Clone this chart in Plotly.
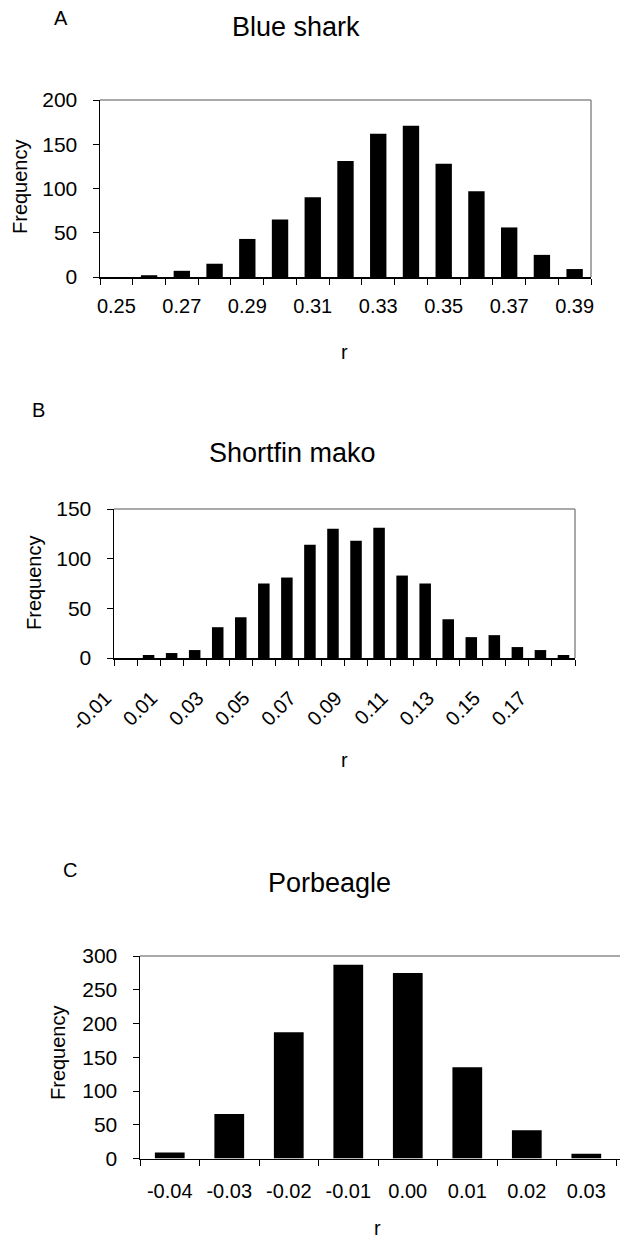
import plotly.graph_objects as go

W, H = 620, 1241

# ---- data ----
r_blue = ["0.25", "0.26", "0.27", "0.28", "0.29", "0.30", "0.31", "0.32",
          "0.33", "0.34", "0.35", "0.36", "0.37", "0.38", "0.39"]
freq_blue = [0, 2, 7, 15, 43, 65, 90, 131, 162, 171, 128, 97, 56, 25, 9]

r_mako = ["-0.01", "0.00", "0.01", "0.02", "0.03", "0.04", "0.05", "0.06", "0.07",
          "0.08", "0.09", "0.10", "0.11", "0.12", "0.13", "0.14", "0.15", "0.16",
          "0.17", "0.18"]
freq_mako = [0, 3, 5, 8, 31, 41, 75, 81, 114, 130, 118, 131, 83, 75, 39, 21, 23, 11, 8, 3]

r_porb = ["-0.04", "-0.03", "-0.02", "-0.01", "0.00", "0.01", "0.02", "0.03"]
freq_porb = [9, 66, 187, 287, 275, 135, 42, 7]

FONT = "Liberation Sans, Arial, sans-serif"
TICK = 20
YTICK = 21
TITLE = 27
LETTER = 20

def px_x(p):
    return p / W

def px_y(p):
    return 1 - p / H

fig = go.Figure()

panels = [
    # cats, vals, axis id, x px range, y px range, ymax, tickangle, x standoff, x shift
    (r_blue, freq_blue, "", (100, 591), (100, 277), 200, 0, 10, 0),
    (r_mako, freq_mako, "2", (114, 575), (509, 658), 150, -45, 19, -20),
    (r_porb, freq_porb, "3", (140, 624), (956, 1158.5), 300, 0, 14, 0),
]

shapes = []
for i, (cats, vals, ax, (x0, x1), (y0, y1), ymax, ang, xso, xsh) in enumerate(panels):
    xa = "x" + ax
    ya = "y" + ax
    fig.add_trace(go.Bar(
        x=cats, y=vals, xaxis=xa, yaxis=ya,
        marker=dict(color="black", line=dict(width=0)),
        showlegend=False,
    ))
    if i < 2:
        ticktext = [c if k % 2 == 0 else "" for k, c in enumerate(cats)]
    else:
        ticktext = list(cats)
    xd = [px_x(x0), min(1.0, px_x(x1))]
    yd = [px_y(y1), px_y(y0)]
    xkey = "xaxis" + ax
    ykey = "yaxis" + ax
    fig.layout[xkey] = dict(
        domain=xd, anchor=ya, type="category",
        tickmode="array", tickvals=cats, ticktext=ticktext,
        tickson="boundaries", ticks="outside", ticklen=6, tickcolor="black",
        tickwidth=1, showline=True, linecolor="black", linewidth=1.5,
        showgrid=False, zeroline=False, tickangle=ang,
        ticklabelstandoff=xso, ticklabelshift=xsh,
        tickfont=dict(family=FONT, size=TICK, color="black"),
        automargin=False, fixedrange=True,
    )
    if i == 2:
        fig.layout[xkey].range = [-0.5, len(cats) - 0.5 + (x1 - 620) / ((x1 - x0) / len(cats))]
    fig.layout[ykey] = dict(
        domain=yd, anchor=xa, range=[0, ymax], dtick=50,
        ticks="outside", ticklen=6, tickcolor="black", tickwidth=1,
        showline=True, linecolor="black", linewidth=1.5,
        showgrid=False, zeroline=False, ticklabelstandoff=11,
        tickfont=dict(family=FONT, size=YTICK, color="black"),
        automargin=False, fixedrange=True,
    )
    # gray plot-area border (top and right)
    shapes.append(dict(type="line", xref=xa + " domain", yref=ya + " domain",
                       x0=0, x1=1, y0=1, y1=1, line=dict(color="#8c8c8c", width=1.5)))
    if i < 2:
        shapes.append(dict(type="line", xref=xa + " domain", yref=ya + " domain",
                           x0=1, x1=1, y0=0, y1=1, line=dict(color="#8c8c8c", width=1.5)))

texts = [
    ("A", 61, 18, LETTER, 0),
    ("Blue shark", 296, 27, TITLE, 0),
    ("Frequency", 20, 187, TICK, -90),
    ("r", 344, 352, TICK, 0),
    ("B", 38, 410, LETTER, 0),
    ("Shortfin mako", 292, 453, TITLE, 0),
    ("Frequency", 34, 583, TICK, -90),
    ("r", 344, 760, TICK, 0),
    ("C", 70, 870, LETTER, 0),
    ("Porbeagle", 329, 883, TITLE, 0),
    ("Frequency", 58, 1053, TICK, -90),
    ("r", 378, 1228, TICK, 0),
]
annotations = []
for t, x, y, s, a in texts:
    annotations.append(dict(text=t, x=px_x(x), y=px_y(y), xref="paper", yref="paper",
                            xanchor="center", yanchor="middle", showarrow=False,
                            textangle=a, font=dict(family=FONT, size=s, color="black")))

fig.update_layout(
    width=W, height=H, margin=dict(l=0, r=0, t=0, b=0),
    paper_bgcolor="white", plot_bgcolor="white",
    bargap=0.5, shapes=shapes, annotations=annotations,
    font=dict(family=FONT, color="black"),
)

fig.write_html(
    "out.html",
    config={"displayModeBar": False, "staticPlot": True},
    post_script="document.body.style.margin='0';document.body.style.overflow='hidden';",
)
